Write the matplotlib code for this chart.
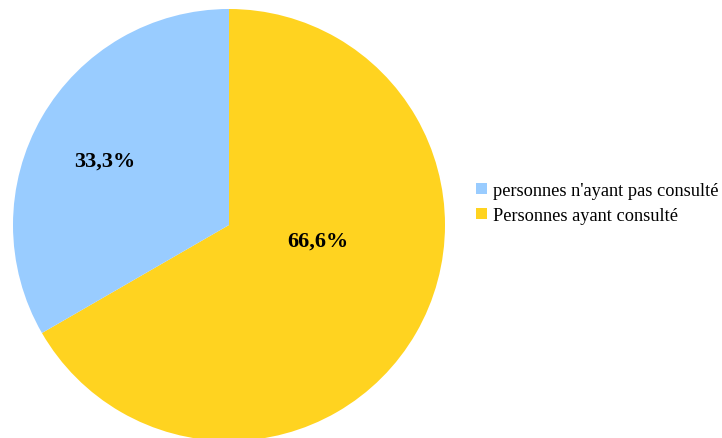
import matplotlib
matplotlib.use("Agg")
import matplotlib.pyplot as plt
from matplotlib.patches import Patch

labels = ["Personnes ayant consulté", "personnes n'ayant pas consulté"]
values = [66.6, 33.3]
colors = ["#FFD320", "#99CCFF"]
pct_labels = ["66,6%", "33,3%"]

plt.rcParams['font.family'] = ['Liberation Serif', 'DejaVu Serif']

fig = plt.figure(figsize=(7.22, 4.39), dpi=100)
ax = fig.add_axes([13/722, (439-442)/439, 432/722, 432/439])
wedges, _ = ax.pie(values, colors=colors, startangle=90, counterclock=False,
                   radius=1.0, wedgeprops=dict(linewidth=0))
ax.set_xlim(-1, 1)
ax.set_ylim(-1, 1)
ax.set_aspect('equal')

label_pos = [(0.41, -0.07), (-0.575, 0.30)]
for (x, y), t in zip(label_pos, pct_labels):
    ax.text(x, y, t, ha='center', va='center', fontsize=16, fontweight='bold')

handles = [Patch(facecolor=colors[1], edgecolor='none'), Patch(facecolor=colors[0], edgecolor='none')]
leg = fig.legend(handles, [labels[1], labels[0]], loc='center left',
                 bbox_to_anchor=(476/722, 1 - 204/439), frameon=False,
                 fontsize=13.2, handlelength=0.6, handleheight=0.6,
                 handletextpad=0.35, labelspacing=0.45, borderpad=0, borderaxespad=0)

fig.savefig("out.png", dpi=100)
